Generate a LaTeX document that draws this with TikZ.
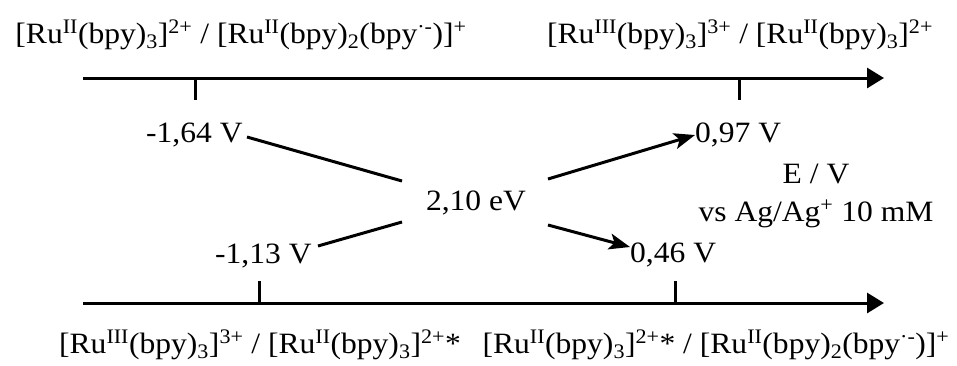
\documentclass[tikz,border=0pt]{standalone}
\usepackage{fontspec}
\setmainfont{Liberation Serif}[FakeStretch=1.07]
\usetikzlibrary{arrows.meta}
\newcommand{\rad}{\textsuperscript{·-}}
\begin{document}
\begin{tikzpicture}[x=1pt,y=-1pt,
  txt/.style={inner sep=0pt,font=\fontsize{29.5}{36}\selectfont},
  axis/.style={line width=3pt,-{Triangle[length=17pt,width=20pt]}},
  tick/.style={line width=3pt},
  link/.style={line width=3pt},
  arr/.style={line width=3pt,-{Stealth[length=21pt,width=16pt,inset=5pt]}}]
\useasboundingbox (0,0) rectangle (957,365);
% axes
\coordinate (ts) at (83,78);
\coordinate (te) at (884,78);
\coordinate (bs) at (83,303);
\coordinate (be) at (884,303);
\draw[axis] (ts) -- (te);
\draw[axis] (bs) -- (be);
% ticks
\coordinate (tk1) at (195,78);
\coordinate (tk2) at (739,78);
\coordinate (bk1) at (259,303);
\coordinate (bk2) at (675,303);
\draw[tick] (tk1) -- ++(0,22);
\draw[tick] (tk2) -- ++(0,22);
\draw[tick] (bk1) -- ++(0,-22);
\draw[tick] (bk2) -- ++(0,-22);
% axis labels
\node[txt,anchor=base] (t1) at (241,43) {[Ru\textsuperscript{II}(bpy)\textsubscript{3}]\textsuperscript{2+} / [Ru\textsuperscript{II}(bpy)\textsubscript{2}(bpy\rad)]\textsuperscript{+}};
\node[txt,anchor=base] (t2) at (740,43) {[Ru\textsuperscript{III}(bpy)\textsubscript{3}]\textsuperscript{3+} / [Ru\textsuperscript{II}(bpy)\textsubscript{3}]\textsuperscript{2+}};
\node[txt,anchor=base] (b1) at (260,353) {[Ru\textsuperscript{III}(bpy)\textsubscript{3}]\textsuperscript{3+} / [Ru\textsuperscript{II}(bpy)\textsubscript{3}]\textsuperscript{2+}*};
\node[txt,anchor=base] (b2) at (716,353) {[Ru\textsuperscript{II}(bpy)\textsubscript{3}]\textsuperscript{2+}* / [Ru\textsuperscript{II}(bpy)\textsubscript{2}(bpy\rad)]\textsuperscript{+}};
% potentials
\node[txt,anchor=base west] (p164) at (146,142) {-1,64 V};
\node[txt,anchor=base west] (p113) at (215,263) {-1,13 V};
\node[txt,anchor=base west] (p097) at (695,142) {0,97 V};
\node[txt,anchor=base west] (p046) at (630,262) {0,46 V};
\node[txt,anchor=base] (gap) at (476,210) {2,10 eV};
\node[txt,anchor=base] (ev) at (816,183) {E / V};
\node[txt,anchor=base] (ref) at (816,221) {vs Ag/Ag\textsuperscript{+} 10 mM};
% connectors
\coordinate (l1a) at (247,137);
\coordinate (l1b) at (402,181);
\coordinate (l2a) at (318,246);
\coordinate (l2b) at (402,222);
\coordinate (r1a) at (548,179);
\coordinate (r2a) at (548,225);
\draw[link] (l1a) -- (l1b);
\draw[link] (l2a) -- (l2b);
\draw[arr] (r1a) -- (p097.west |- 0,135);
\draw[arr] (r2a) -- (p046.west |- 0,247);
\end{tikzpicture}
\end{document}
